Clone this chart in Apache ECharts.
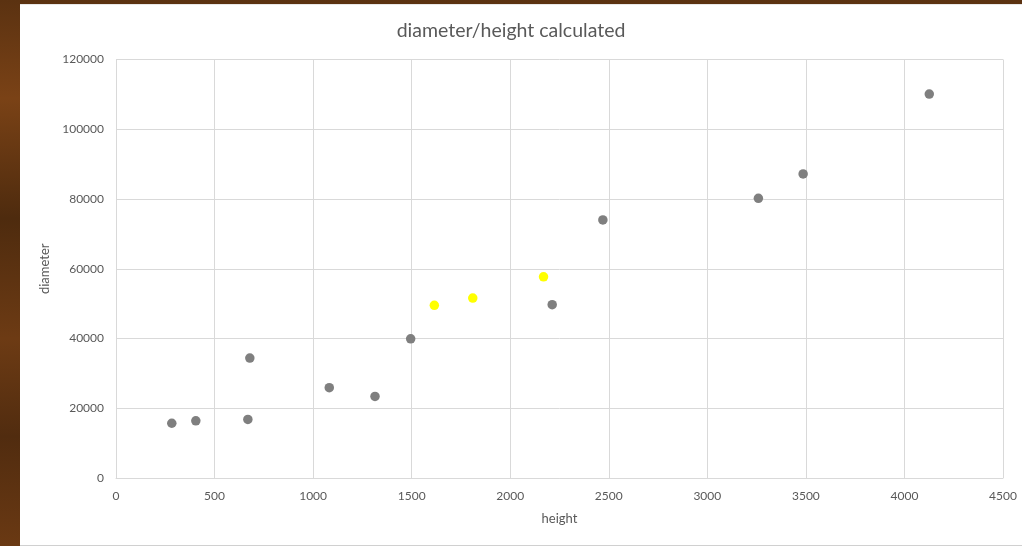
<!DOCTYPE html>
<html>
<head>
<meta charset="utf-8">
<script src="https://cdn.jsdelivr.net/npm/echarts@6/dist/echarts.min.js"></script>
<style>
  html, body { margin: 0; padding: 0; }
  body {
    width: 1022px; height: 546px; overflow: hidden; position: relative;
    background: linear-gradient(180deg, #5b3211 0%, #7a4216 18%, #4e2b0e 40%, #6d3b14 62%, #512c0f 80%, #6a3913 100%);
  }
  #panel {
    position: absolute; left: 20px; top: 4px; width: 1002px; height: 540px;
    background: #ffffff; border-bottom: 1px solid #d0d0d0;
    border-top: 1px solid #e8e8e8;
  }
  #chart { position: absolute; left: 0; top: 0; width: 1022px; height: 546px; }
</style>
</head>
<body>
<div id="panel"></div>
<div id="chart"></div>
<script>
  // height / diameter measurements
  const grayHeight   = [283, 405, 669, 679, 1082, 1314, 1495, 2213, 2470, 3259, 3486, 4126];
  const grayDiameter = [15700, 16400, 16800, 34400, 25900, 23400, 39900, 49700, 74000, 80200, 87200, 110100];
  const yellowHeight   = [1615, 1810, 2169];
  const yellowDiameter = [49500, 51600, 57700];

  const xTicks = { min: 0, max: 4500, interval: 500 };
  const yTicks = { min: 0, max: 120000, interval: 20000 };

  const pairs = (xs, ys) => xs.map((x, i) => [x, ys[i]]);

  const textColor = '#595959';
  const gridColor = '#d9d9d9';
  const fontFamily = 'Lato, "Open Sans", sans-serif';
  const plain = v => String(v);

  const chart = echarts.init(document.getElementById('chart'), null, { renderer: 'canvas' });
  chart.setOption({
    backgroundColor: 'transparent',
    animation: false,
    title: {
      text: 'diameter/height calculated',
      left: 'center',
      top: 16,
      textStyle: { color: textColor, fontSize: 19.5, fontWeight: 'normal', fontFamily }
    },
    grid: { left: 116, right: 19, top: 59.5, bottom: 68, containLabel: false },
    xAxis: {
      type: 'value',
      min: xTicks.min, max: xTicks.max, interval: xTicks.interval,
      name: 'height',
      nameLocation: 'middle',
      nameGap: 34,
      nameTextStyle: { color: textColor, fontSize: 13, fontFamily },
      axisLine: { show: true, lineStyle: { color: gridColor } },
      axisTick: { show: false },
      axisLabel: { color: textColor, fontSize: 12, fontFamily, margin: 12, formatter: plain },
      splitLine: { show: true, lineStyle: { color: gridColor } }
    },
    yAxis: {
      type: 'value',
      min: yTicks.min, max: yTicks.max, interval: yTicks.interval,
      name: 'diameter',
      nameLocation: 'middle',
      nameGap: 56,
      nameRotate: 90,
      nameTextStyle: { color: textColor, fontSize: 13, fontFamily },
      axisLine: { show: true, lineStyle: { color: gridColor } },
      axisTick: { show: false },
      axisLabel: { color: textColor, fontSize: 12, fontFamily, margin: 12, formatter: plain },
      splitLine: { show: true, lineStyle: { color: gridColor } }
    },
    series: [
      {
        type: 'scatter',
        data: pairs(grayHeight, grayDiameter),
        symbolSize: 9.5,
        itemStyle: { color: '#7f7f7f', opacity: 1 }
      },
      {
        type: 'scatter',
        data: pairs(yellowHeight, yellowDiameter),
        symbolSize: 9.5,
        itemStyle: { color: '#ffff00', opacity: 1 }
      }
    ]
  });
</script>
</body>
</html>
